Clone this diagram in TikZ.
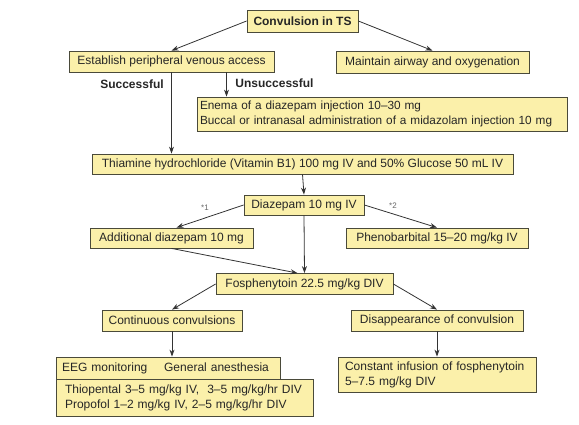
\documentclass[tikz,border=0pt]{standalone}
\usepackage{fontspec}
\setmainfont{Liberation Sans}
\usetikzlibrary{arrows.meta,positioning,calc}
\definecolor{boxFill}{HTML}{FBF0AA}
\definecolor{boxLine}{HTML}{4A4A3A}
\definecolor{arrowGray}{HTML}{333333}
\definecolor{noteGray}{HTML}{666666}

\begin{document}
\begin{tikzpicture}[x=1pt,y=-1pt,
  box/.style={rectangle,draw=boxLine,fill=boxFill,line width=0.8pt,inner sep=0pt,
    text=black!85,font=\fontsize{12}{15}\selectfont},
  leftbox/.style={box,align=left,inner xsep=7pt},
  arr/.style={draw=arrowGray,line width=0.8pt,-{Stealth[length=7pt,width=5pt]}},
  tag/.style={font=\fontsize{12}{14}\selectfont\bfseries,text=black!85},
  note/.style={font=\fontsize{8}{9}\selectfont,text=noteGray}
]
  \useasboundingbox (0,0) rectangle (579,425);
  % boxes
  \node[box,font=\fontsize{12}{15}\selectfont\bfseries,minimum width=111pt,minimum height=22pt] (conv) at (302.5,21) {Convulsion in TS};
  \node[box,minimum width=205pt,minimum height=21pt] (access) at (171.5,61.5) {Establish peripheral venous access};
  \node[box,minimum width=193pt,minimum height=22pt] (airway) at (432.5,62) {Maintain airway and oxygenation};
  \node[leftbox,font=\fontsize{11.8}{15}\selectfont,inner xsep=3pt,text width=364pt,minimum height=34pt] (rescue) at (382,114)
    {Enema of a diazepam injection 10--30 mg\\Buccal or intranasal administration of a midazolam injection 10 mg};
  \node[box,minimum width=421pt,minimum height=20pt] (thiamine) at (302.5,164)
    {Thiamine hydrochloride (Vitamin B1) 100 mg IV and 50\% Glucose 50 mL IV};
  \node[box,minimum width=120pt,minimum height=20pt] (diaz) at (304,205) {Diazepam 10 mg IV};
  \node[box,minimum width=163pt,minimum height=20pt] (adddiaz) at (171.5,238) {Additional diazepam 10 mg};
  \node[box,minimum width=182pt,minimum height=20pt] (pheno) at (437,238) {Phenobarbital 15--20 mg/kg IV};
  \node[box,minimum width=177pt,minimum height=21pt] (fos) at (304.5,284) {Fosphenytoin 22.5 mg/kg DIV};
  \node[box,minimum width=140pt,minimum height=21pt] (contconv) at (172,320.5) {Continuous convulsions};
  \node[leftbox,inner xsep=6pt,text width=212pt,minimum height=22pt] (eeg) at (168,368)
    {EEG monitoring\hspace{1.4em}General anesthesia};
  \node[box,minimum width=172pt,minimum height=21pt] (disapp) at (437,320.5) {Disappearance of convulsion};
  \node[leftbox,inner xsep=9pt,text width=239pt,minimum height=37pt] (drugs) at (184.5,397.5)
    {Thiopental 3--5 mg/kg IV,\ \ 3--5 mg/kg/hr DIV\\Propofol 1--2 mg/kg IV, 2--5 mg/kg/hr DIV};
  \node[leftbox,text width=184pt,minimum height=35pt] (infusion) at (437,374.5)
    {Constant infusion of fosphenytoin\\5--7.5 mg/kg DIV};

  % labels
  \node[tag] (succ) at (132,84) {Successful};
  \node[tag] (unsucc) at (274.5,83) {Unsuccessful};
  \node[note] (star1) at (205,208) {*1};
  \node[note] (star2) at (393,206) {*2};

  % connectors
  \coordinate (split) at ([xshift=55pt]access.south);
  \draw[arr] (conv.west) -- (access.north);
  \draw[arr] (conv.east) -- (airway.north);
  \draw[arr] (access.south) -- (access.south |- thiamine.north);
  \draw[arr] (split) -- (split |- rescue.north);
  \draw[arr] (thiamine.south) -- (diaz.north);
  \draw[arr] (diaz.west) -- ([xshift=5pt]adddiaz.north);
  \draw[arr] (diaz.east) -- (pheno.north);
  \draw[arr] (diaz.south) -- (fos.north);
  \draw[arr] (adddiaz.south) -- ([xshift=-7pt]fos.north);
  \draw[arr] (fos.west) -- (contconv.north);
  \draw[arr] (fos.east) -- (disapp.north);
  \draw[arr] (contconv.south) -- (contconv.south |- eeg.north);
  \draw[arr] (disapp.south) -- (infusion.north);
\end{tikzpicture}
\end{document}
